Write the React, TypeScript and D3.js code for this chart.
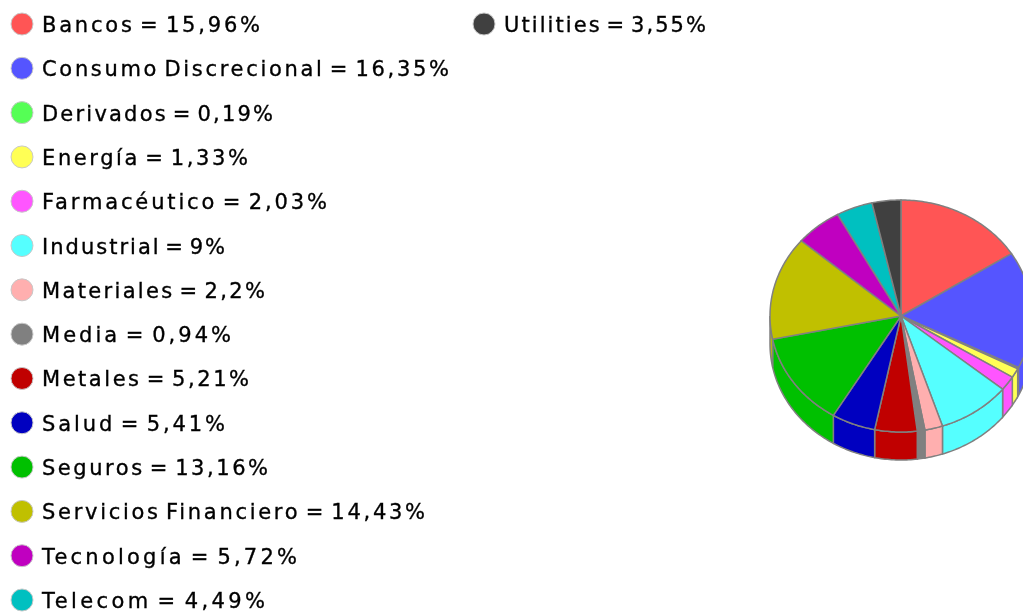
import React from "react";
import * as d3 from "d3";

const categories = ["Bancos","Consumo Discrecional","Derivados","Energía","Farmacéutico","Industrial","Materiales","Media","Metales","Salud","Seguros","Servicios Financiero","Tecnología","Telecom","Utilities"];
const values = [15.96,16.35,0.19,1.33,2.03,9,2.2,0.94,5.21,5.41,13.16,14.43,5.72,4.49,3.55];
const colors = ["#FF5555","#5555FF","#55FF55","#FFFF55","#FF55FF","#55FFFF","#FFAFAF","#808080","#C00000","#0000C0","#00C000","#C0C000","#C000C0","#00C0C0","#404040"];
const labelWidths = [218,407,231,206,285,183,223,189,207,183,226,383,255,223,202];

const W = 1023, H = 614;
const cx = 901, cy = 316, rx = 131, ry = 116, depth = 28;
const rowsPerColumn = 14;

const rowY = d3.scaleLinear().domain([0, rowsPerColumn - 1]).range([24, 600]);
const colX = d3.scaleLinear().domain([0, 1]).range([22, 484]);

const pt = (a: number, dy = 0): [number, number] => [cx + rx * Math.sin(a), cy - ry * Math.cos(a) + dy];
const arcPts = (a0: number, a1: number, dy = 0) => {
  const n = Math.max(2, Math.ceil(Math.abs(a1 - a0) * 60));
  return d3.range(n + 1).map(i => pt(a0 + (a1 - a0) * i / n, dy));
};
const line = d3.line();
const arcs = d3.pie<number>().sort(null).value(d => d)(values);

export default function App() {
  return (
    <svg width={W} height={H} style={{ position: "fixed", left: 0, top: 0, background: "#fff" }}>
      <defs>
        <filter id="soft" x="-5%" y="-5%" width="110%" height="110%">
          <feGaussianBlur stdDeviation="0.7" />
        </filter>
      </defs>
      <g filter="url(#soft)">
        {arcs.map((s, i) => {
          const a0 = Math.max(s.startAngle, Math.PI / 2), a1 = Math.min(s.endAngle, 1.5 * Math.PI);
          if (a1 <= a0) return null;
          const poly = [...arcPts(a0, a1), ...arcPts(a1, a0, depth)];
          return <path key={i} d={line(poly)! + "Z"} fill={colors[i]} stroke="#808080" strokeWidth={1.5} />;
        })}
        {arcs.map((s, i) => {
          const poly = [[cx, cy] as [number, number], ...arcPts(s.startAngle, s.endAngle)];
          return <path key={i} d={line(poly)! + "Z"} fill={colors[i]} stroke="#808080" strokeWidth={1.5} />;
        })}
        {categories.map((c, i) => {
          const col = Math.floor(i / rowsPerColumn), row = i % rowsPerColumn;
          const x = colX(col), y = rowY(row);
          return (
            <g key={c}>
              <circle cx={x} cy={y} r={11} fill={colors[i]} stroke="#c8c8c8" strokeWidth={1} />
              <text x={x + 20} y={y + 8} fontFamily="DejaVu Sans" fontSize={21} wordSpacing={-4} textLength={labelWidths[i]} lengthAdjust="spacing" fill="#000" stroke="#000" strokeWidth={0.35}>
                {`${c} = ${String(values[i]).replace(".", ",")}%`}
              </text>
            </g>
          );
        })}
      </g>
    </svg>
  );
}
